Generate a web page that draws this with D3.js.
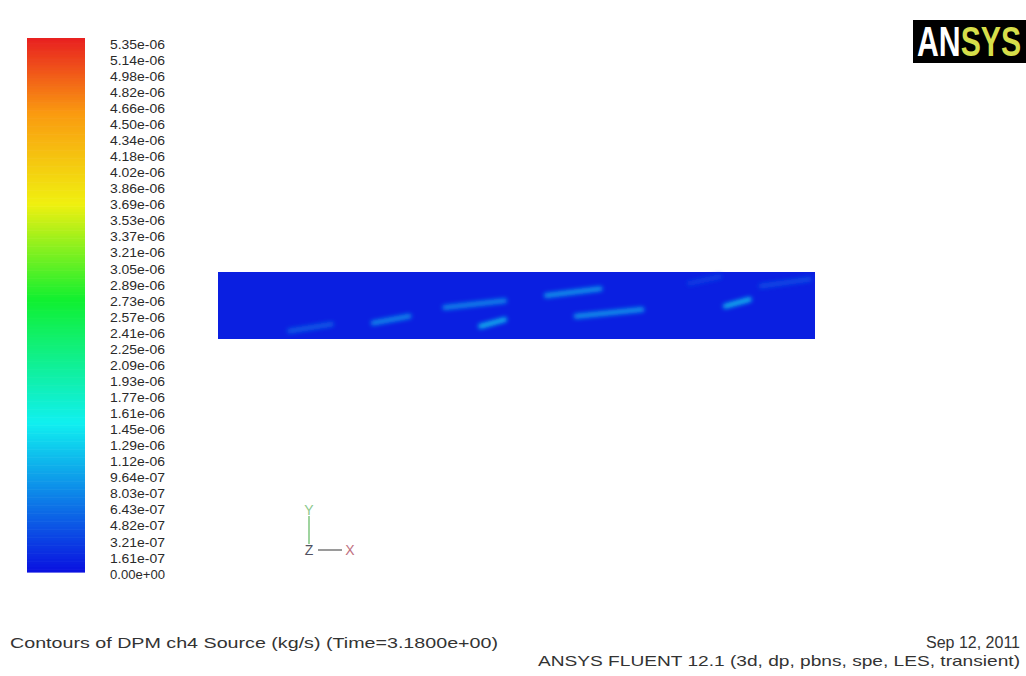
<!DOCTYPE html>
<html lang="en">
<head>
<meta charset="utf-8">
<script src="https://d3js.org/d3.v7.min.js"></script>
<style>
body { margin: 0; background: #fff; }
svg text { font-family: "Liberation Sans", Arial, sans-serif; fill: #333; }
</style>
</head>
<body>
<script>
// colour bar tick labels, top to bottom
var levelLabels = ["5.35e-06","5.14e-06","4.98e-06","4.82e-06","4.66e-06","4.50e-06","4.34e-06",
  "4.18e-06","4.02e-06","3.86e-06","3.69e-06","3.53e-06","3.37e-06","3.21e-06","3.05e-06",
  "2.89e-06","2.73e-06","2.57e-06","2.41e-06","2.25e-06","2.09e-06","1.93e-06","1.77e-06",
  "1.61e-06","1.45e-06","1.29e-06","1.12e-06","9.64e-07","8.03e-07","6.43e-07","4.82e-07",
  "3.21e-07","1.61e-07","0.00e+00"];
var vMin = 0, vMax = 5.35e-06;

// background value of the duct and the faint particle streaks (x0, x1 along duct, y across, value)
var fieldValue = 1.0e-07;
var streakX0 = [0.12, 0.26, 0.38, 0.44, 0.55, 0.60, 0.85, 0.91, 0.79];
var streakX1 = [0.19, 0.32, 0.48, 0.48, 0.64, 0.71, 0.89, 0.99, 0.84];
var streakY  = [0.17, 0.29, 0.52, 0.24, 0.70, 0.39, 0.54, 0.84, 0.88];
var streakV  = [5.0e-07, 8.0e-07, 8.0e-07, 1.1e-06, 9.0e-07, 9.0e-07, 1.1e-06, 4.0e-07, 3.0e-07];

var width = 1026, height = 676;
var svg = d3.select("body").append("svg").attr("width", width).attr("height", height);

var color = d3.scaleLinear()
  .domain([0, 0.28, 0.51, 0.69, 0.86, 1].map(function(t) { return vMin + t * (vMax - vMin); }))
  .range(["#0a10e0", "#10f0f0", "#10f030", "#f0f010", "#fa9a10", "#e82020"]);

var defs = svg.append("defs");
defs.append("filter").attr("id", "blur").attr("x", "-20%").attr("y", "-200%")
  .attr("width", "140%").attr("height", "500%")
  .append("feGaussianBlur").attr("stdDeviation", 2.2);

// colour bar
var barY = d3.scaleLinear().domain([vMin, vMax]).range([572, 38]);
var steps = d3.range(0, 200);
svg.append("g").selectAll("rect").data(steps).enter().append("rect")
  .attr("x", 27).attr("width", 58)
  .attr("y", function(i) { return barY(vMin + (i + 1) / 200 * (vMax - vMin)); })
  .attr("height", (572 - 38) / 200 + 0.6)
  .attr("fill", function(i) { return color(vMin + (i + 0.5) / 200 * (vMax - vMin)); });

var labelY = d3.scalePoint().domain(levelLabels).range([44, 574]);
svg.append("g").selectAll("text").data(levelLabels).enter().append("text")
  .attr("x", 110).attr("y", function(d) { return labelY(d); })
  .attr("dy", "0.36em")
  .attr("textLength", 55).attr("lengthAdjust", "spacingAndGlyphs")
  .style("font-size", "13px").style("fill", "#2a2a2a")
  .text(function(d) { return d; });

// duct contour
var x = d3.scaleLinear().domain([0, 1]).range([218, 815]);
var y = d3.scaleLinear().domain([0, 1]).range([339, 272]);
svg.append("rect")
  .attr("x", x(0)).attr("y", y(1))
  .attr("width", x(1) - x(0)).attr("height", y(0) - y(1))
  .attr("fill", color(fieldValue));

svg.append("g").attr("filter", "url(#blur)").selectAll("line").data(streakX0).enter().append("line")
  .attr("x1", function(d) { return x(d); })
  .attr("x2", function(d, i) { return x(streakX1[i]); })
  .attr("y1", function(d, i) { return y(streakY[i] - 0.05); })
  .attr("y2", function(d, i) { return y(streakY[i] + 0.05); })
  .attr("stroke", function(d, i) { return color(streakV[i]); })
  .attr("stroke-width", 5).attr("stroke-linecap", "round");

// axis triad
var triad = svg.append("g").style("font-size", "14px");
triad.append("line").attr("x1", 309).attr("x2", 309).attr("y1", 516).attr("y2", 544)
  .attr("stroke", "#9fd49f").attr("stroke-width", 2);
triad.append("line").attr("x1", 318).attr("x2", 342).attr("y1", 550).attr("y2", 550)
  .attr("stroke", "#9a9a9a").attr("stroke-width", 2);
triad.append("text").attr("x", 309).attr("y", 515).attr("text-anchor", "middle")
  .style("fill", "#8cc88c").text("Y");
triad.append("text").attr("x", 309).attr("y", 555).attr("text-anchor", "middle")
  .style("fill", "#505060").text("Z");
triad.append("text").attr("x", 350).attr("y", 555).attr("text-anchor", "middle")
  .style("fill", "#c07080").text("X");

// logo
svg.append("rect").attr("x", 913).attr("y", 20).attr("width", 113).attr("height", 43).attr("fill", "#000");
var lt = svg.append("text").attr("transform", "translate(917,56) scale(0.72,1)")
  .style("font-weight", "bold").style("font-size", "42px");
lt.append("tspan").style("fill", "#fff").text("AN");
lt.append("tspan").style("fill", "#d6de4a").text("SYS");

// footer
svg.append("text").attr("x", 10).attr("y", 648).style("font-size", "15px")
  .attr("textLength", 488).attr("lengthAdjust", "spacingAndGlyphs")
  .text("Contours of DPM ch4 Source (kg/s)  (Time=3.1800e+00)");
svg.append("text").attr("x", 1020).attr("y", 648).attr("text-anchor", "end").style("font-size", "16px")
  .text("Sep 12, 2011");
svg.append("text").attr("x", 538).attr("y", 666).style("font-size", "15px")
  .attr("textLength", 482).attr("lengthAdjust", "spacingAndGlyphs")
  .text("ANSYS FLUENT 12.1 (3d, dp, pbns, spe, LES, transient)");
</script>
</body>
</html>
